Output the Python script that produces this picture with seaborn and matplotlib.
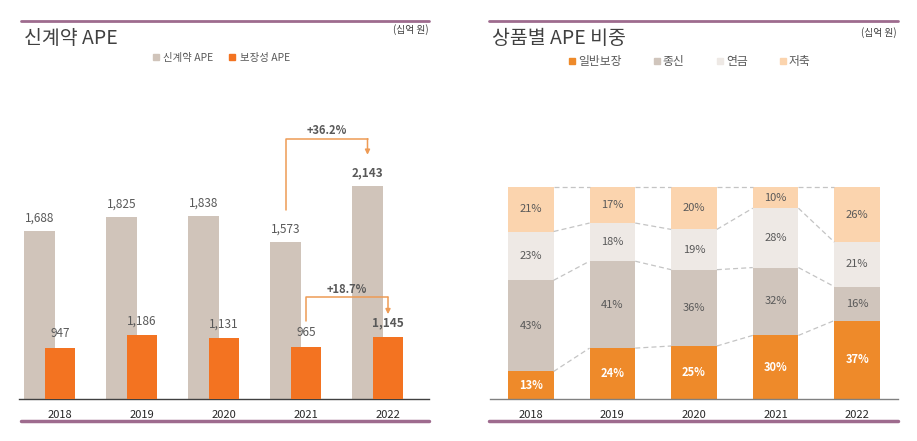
import numpy as np
import matplotlib
matplotlib.use('Agg')
import matplotlib.pyplot as plt
import seaborn as sns
from matplotlib.lines import Line2D

# 데이터
years = ['2018', '2019', '2020', '2021', '2022']
new_ape = [1688, 1825, 1838, 1573, 2143]      # 신계약 APE
prot_ape = [947, 1186, 1131, 965, 1145]       # 보장성 APE
growth_new = '+36.2%'
growth_prot = '+18.7%'

mix_labels = ['일반보장', '종신', '연금', '저축']
mix_general = [13, 24, 25, 30, 37]
mix_whole = [43, 41, 36, 32, 16]
mix_annuity = [23, 18, 19, 28, 21]
mix_saving = [21, 17, 20, 10, 26]

# 색상
GRAY_BAR = '#D0C4BA'
ORANGE_BAR = '#F37321'
MIX_COLORS = ['#EE8A2A', '#D0C5BC', '#EEE9E5', '#FBD4AE']
PURPLE = '#9E6B8E'
TXT = '#595959'
ARROW = '#EE9B55'

sns.set_theme(style='white')
plt.rcParams['font.family'] = ['Noto Sans CJK KR', 'DejaVu Sans']
plt.rcParams['axes.unicode_minus'] = False

W, H = 917, 441
fig = plt.figure(figsize=(W / 100, H / 100), dpi=100)

# ---------------- 왼쪽: 신계약 APE ----------------
gray_scale = 0.0995   # px per unit
orange_scale = 0.054
ax_h = 289
axL = fig.add_axes([19 / W, 42 / H, 410 / W, ax_h / H])
ax2 = axL.twinx()
pos = np.arange(len(years))

sns.barplot(x=pos - 0.25, y=new_ape, native_scale=True, orient='x', width=0.39,
            color=GRAY_BAR, saturation=1, linewidth=0, ax=axL)
sns.barplot(x=pos, y=prot_ape, native_scale=True, orient='x', width=0.37,
            color=ORANGE_BAR, saturation=1, linewidth=0, ax=ax2)

axL.set_ylim(0, ax_h / gray_scale)
ax2.set_ylim(0, ax_h / orange_scale)
axL.set_xlim(-0.5, 4.5)
ax2.set_xlim(-0.5, 4.5)

for i, v in enumerate(new_ape):
    axL.text(i - 0.25, v + 13 / gray_scale, f'{v:,}', ha='center', va='center',
             fontsize=8.5, color=TXT, fontweight='bold' if i == 4 else 'normal')
for i, v in enumerate(prot_ape):
    ax2.text(i, v + 14 / orange_scale, f'{v:,}', ha='center', va='center',
             fontsize=8.5, color=TXT, fontweight='bold' if i == 4 else 'normal')

# 증가율 화살표 (신계약)
x3, x4 = 3 - 0.25, 4 - 0.25
top1 = new_ape[4] + 47 / gray_scale
axL.plot([x3, x3, x4], [new_ape[3] + 32 / gray_scale, top1, top1], color=ARROW, lw=1.1)
axL.annotate('', xy=(x4, new_ape[4] + 31 / gray_scale), xytext=(x4, top1),
             arrowprops=dict(arrowstyle='-|>', color=ARROW, lw=1.1, mutation_scale=7,
                             shrinkA=0, shrinkB=0))
axL.text((x3 + x4) / 2, top1 + 8 / gray_scale, growth_new, ha='center', va='center',
         fontsize=8, color=TXT, fontweight='bold')

# 증가율 화살표 (보장성)
top2 = prot_ape[4] + 40 / orange_scale
ax2.plot([3, 3, 4], [prot_ape[3] + 26 / orange_scale, top2, top2], color=ARROW, lw=1.1)
ax2.annotate('', xy=(4, prot_ape[4] + 23 / orange_scale), xytext=(4, top2),
             arrowprops=dict(arrowstyle='-|>', color=ARROW, lw=1.1, mutation_scale=7,
                             shrinkA=0, shrinkB=0))
ax2.text(3.5, top2 + 8 / orange_scale, growth_prot, ha='center', va='center',
         fontsize=8, color=TXT, fontweight='bold')

axL.set_xticks(pos)
axL.set_xticklabels(years, fontsize=8, color='#262626')
axL.tick_params(axis='x', length=0, pad=8)
for a in (axL, ax2):
    a.set_yticks([])
    a.set_ylabel('')
    a.set_xlabel('')
    for s in ['top', 'left', 'right', 'bottom']:
        a.spines[s].set_visible(False)
axL.spines['bottom'].set_visible(True)
axL.spines['bottom'].set_color('#404040')
axL.spines['bottom'].set_linewidth(1)

# ---------------- 오른쪽: 상품별 APE 비중 ----------------
axM = fig.add_axes([490 / W, 42 / H, 408 / W, 212 / H])
layers = [mix_general, mix_whole, mix_annuity, mix_saving]
cums = np.cumsum(np.array(layers), axis=0)
bw = 0.56
for k in range(3, -1, -1):
    sns.barplot(x=years, y=cums[k], color=MIX_COLORS[k], width=bw, saturation=1,
                linewidth=0, ax=axM)

for k in range(4):
    for i in range(len(years) - 1):
        axM.plot([i + bw / 2, i + 1 - bw / 2], [cums[k][i], cums[k][i + 1]],
                 ls=(0, (4, 2.5)), color='#C4C4C4', lw=0.9, clip_on=False)

for k in range(4):
    for i in range(len(years)):
        mid = cums[k][i] - layers[k][i] / 2
        if k == 0:
            axM.text(i, mid, f'{layers[k][i]}%', ha='center', va='center', fontsize=8,
                     color='white', fontweight='bold')
        else:
            axM.text(i, mid, f'{layers[k][i]}%', ha='center', va='center', fontsize=8,
                     color=TXT)

axM.set_ylim(0, 100)
axM.set_xlim(-0.5, 4.5)
axM.set_yticks([])
axM.set_ylabel('')
axM.set_xlabel('')
axM.set_xticks(range(len(years)))
axM.set_xticklabels(years, fontsize=8, color='#262626')
axM.tick_params(axis='x', length=0, pad=8)
for s in ['top', 'left', 'right']:
    axM.spines[s].set_visible(False)
axM.spines['bottom'].set_color('#808080')
axM.spines['bottom'].set_linewidth(1)

# ---------------- 제목, 범례, 장식선 ----------------
for x0, x1 in [(21, 429), (489, 898)]:
    fig.add_artist(Line2D([x0 / W, x1 / W], [1 - 21 / H] * 2, color=PURPLE, lw=2))
    fig.add_artist(Line2D([x0 / W, x1 / W], [1 - 421 / H] * 2, color=PURPLE, lw=2.5))

fig.text(24 / W, 1 - 38 / H, '신계약 APE', fontsize=14, va='center', color='#404040')
fig.text(492 / W, 1 - 38 / H, '상품별 APE 비중', fontsize=14, va='center', color='#404040')
fig.text(429 / W, 1 - 30 / H, '(십억 원)', ha='right', va='center', fontsize=7, color='#404040')
fig.text(897 / W, 1 - 33 / H, '(십억 원)', ha='right', va='center', fontsize=7, color='#404040')

h_left = [Line2D([], [], marker='s', ls='', color=c, markersize=5) for c in [GRAY_BAR, ORANGE_BAR]]
fig.legend(h_left, ['신계약 APE', '보장성 APE'], loc='center', bbox_to_anchor=(221 / W, 1 - 58 / H),
           ncol=2, frameon=False, fontsize=7.5, handletextpad=0.3, columnspacing=1.4,
           handlelength=0.8, labelcolor=TXT)
h_right = [Line2D([], [], marker='s', ls='', color=c, markersize=5) for c in MIX_COLORS]
fig.legend(h_right, mix_labels, loc='center', bbox_to_anchor=(689 / W, 1 - 62 / H),
           ncol=4, frameon=False, fontsize=8.5, handletextpad=0.1, columnspacing=2.6,
           handlelength=0.8, labelcolor=TXT)

fig.savefig('out.png', dpi=100)
